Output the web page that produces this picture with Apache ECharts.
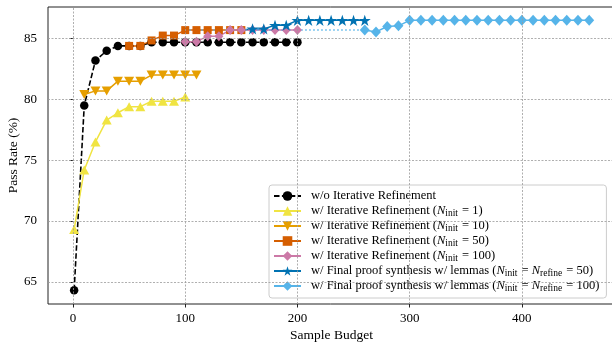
<!DOCTYPE html>
<html>
<head>
<meta charset="utf-8">
<script src="https://cdn.jsdelivr.net/npm/echarts@6/dist/echarts.min.js"></script>
<style>
  html,body{margin:0;padding:0;background:#fff;}
  #chart_wrap{width:612px;height:342px;}
</style>
</head>
<body>
<div id="chart_wrap"></div>
<script>
// sample budgets (x) and pass rates (%)
var budgetBase=[1,10,20,30,40,50,60,70,80,90,100,110,120,130,140,150,160,170,180,190,200];
var rateBase=[64.3,79.5,83.2,84.0,84.4,84.4,84.4,84.7,84.7,84.7,84.7,84.7,84.7,84.7,84.7,84.7,84.7,84.7,84.7,84.7,84.7];

var budgetInit1=[1,10,20,30,40,50,60,70,80,90,100];
var rateInit1=[69.3,74.2,76.5,78.3,78.9,79.4,79.4,79.85,79.85,79.85,80.2];

var budgetInit10=[10,20,30,40,50,60,70,80,90,100,110];
var rateInit10=[80.4,80.7,80.7,81.5,81.5,81.5,82.0,82.0,82.0,82.0,82.0];

var budgetInit50=[50,60,70,80,90,100,110,120,130,140,150];
var rateInit50=[84.4,84.4,84.85,85.25,85.25,85.7,85.7,85.7,85.7,85.7,85.7];

var budgetInit100=[100,110,120,130,140,150,160,170,180,190,200];
var rateInit100=[84.75,84.75,85.2,85.2,85.7,85.7,85.7,85.7,85.7,85.7,85.7];

var budgetLemma50=[150,160,170,180,190,200,210,220,230,240,250,260];
var rateLemma50=[85.7,85.8,85.8,86.1,86.1,86.5,86.5,86.5,86.5,86.5,86.5,86.5];

var budgetLemma100Pre=[100,260];
var rateLemma100Pre=[85.7,85.7];
var budgetLemma100=[260,270,280,290,300,310,320,330,340,350,360,370,380,390,400,410,420,430,440,450,460];
var rateLemma100=[85.7,85.55,86.0,86.05,86.5,86.5,86.5,86.5,86.5,86.5,86.5,86.5,86.5,86.5,86.5,86.5,86.5,86.5,86.5,86.5,86.5];

var xTicks=[0,100,200,300,400];
var yTicks=[65,70,75,80,85];

var seriesNames=[
  'w/o Iterative Refinement',
  'w/ Iterative Refinement (N_init = 1)',
  'w/ Iterative Refinement (N_init = 10)',
  'w/ Iterative Refinement (N_init = 50)',
  'w/ Iterative Refinement (N_init = 100)',
  'w/ Final proof synthesis w/ lemmas (N_init = N_refine = 50)',
  'w/ Final proof synthesis w/ lemmas (N_init = N_refine = 100)'
];

var serif='"Liberation Serif","DejaVu Serif",serif';
var starPath='path://M50,0 L61.8,35.4 L100,35.4 L69.1,57.3 L80.9,92.7 L50,70.8 L19.1,92.7 L30.9,57.3 L0,35.4 L38.2,35.4 Z';

var pairs=function(xs,ys){
  return xs.map(function(x,i){return [x,ys[i]];});
};

var objEcharts=echarts.init(document.getElementById('chart_wrap'));

var gridLines=[];
xTicks.forEach(function(v){gridLines.push({xAxis:v});});
yTicks.forEach(function(v){gridLines.push({yAxis:v});});

var lemma50Data=pairs(budgetLemma50,rateLemma50);
lemma50Data[0]={value:lemma50Data[0],symbol:'none'};

option={
  animation:false,
  grid:{
    left:48,right:-3,top:7,bottom:38,
    outerBoundsMode:'none',containLabel:false,
    show:true,borderColor:'#222',borderWidth:1
  },
  legend:{
    data:seriesNames,
    orient:'vertical',
    left:269,top:185,
    padding:[4,7,5,4],
    itemWidth:27,itemHeight:12,itemGap:1,
    backgroundColor:'rgba(255,255,255,0.85)',
    borderColor:'#ccc',borderWidth:1,borderRadius:3,
    textStyle:{
      fontFamily:serif,fontSize:12.5,color:'#000',lineHeight:14,padding:[0,0,0,5],
      rich:{
        n:{fontFamily:serif,fontSize:12.5,fontStyle:'italic',lineHeight:14},
        s:{fontFamily:serif,fontSize:9.5,lineHeight:10,padding:[4,1,0,0]}
      }
    },
    formatter:function(name){
      return name.replace(/N_(init|refine)/g,'{n|N}{s|$1}');
    }
  },
  xAxis:{
    type:'value',
    min:-22.3,max:483,
    axisLine:{show:false,onZero:false},
    axisTick:{show:true,length:3.5,customValues:xTicks,lineStyle:{color:'#222'}},
    axisLabel:{customValues:xTicks,margin:8,fontFamily:serif,fontSize:13,color:'#000'},
    splitLine:{show:false},
    name:'Sample Budget',
    nameLocation:'middle',nameGap:24,nameMoveOverlap:false,
    nameTextStyle:{fontFamily:serif,fontSize:13.5,color:'#000'}
  },
  yAxis:{
    type:'value',
    min:63.17,max:87.6,
    axisLine:{show:false},
    axisTick:{show:true,length:3.5,customValues:yTicks,lineStyle:{color:'#222'}},
    axisLabel:{customValues:yTicks,margin:11,fontFamily:serif,fontSize:13,color:'#000'},
    splitLine:{show:false},
    name:'Pass Rate (%)',
    nameLocation:'middle',nameGap:28,nameMoveOverlap:false,
    nameTextStyle:{fontFamily:serif,fontSize:13.5,color:'#000'}
  },
  series:[
    { // grid lines
      type:'line',data:[],z:1,silent:true,
      markLine:{
        silent:true,symbol:'none',label:{show:false},animation:false,
        lineStyle:{color:'#9a9a9a',type:[2,1.5],width:0.8},
        data:gridLines
      }
    },
    {
      name:seriesNames[0],type:'line',data:pairs(budgetBase,rateBase),
      symbol:'circle',symbolSize:8.5,
      itemStyle:{color:'#000'},
      lineStyle:{color:'#000',width:1.6,type:[5.5,2.4]}
    },
    {
      name:seriesNames[1],type:'line',data:pairs(budgetInit1,rateInit1),
      symbol:'triangle',symbolSize:[10,9],
      itemStyle:{color:'#F0E442'},
      lineStyle:{color:'#F0E442',width:1.5}
    },
    {
      name:seriesNames[2],type:'line',data:pairs(budgetInit10,rateInit10),
      symbol:'triangle',symbolRotate:180,symbolSize:[10,9],
      itemStyle:{color:'#E69F00'},
      lineStyle:{color:'#E69F00',width:1.5}
    },
    {
      name:seriesNames[3],type:'line',data:pairs(budgetInit50,rateInit50),
      symbol:'rect',symbolSize:8,
      itemStyle:{color:'#D55E00'},
      lineStyle:{color:'#D55E00',width:1.5}
    },
    {
      name:seriesNames[4],type:'line',data:pairs(budgetInit100,rateInit100),
      symbol:'diamond',symbolSize:[9,10],
      itemStyle:{color:'#CC79A7'},
      lineStyle:{color:'#CC79A7',width:1.5}
    },
    {
      name:seriesNames[5],type:'line',data:lemma50Data,
      symbol:starPath,symbolSize:12,symbolKeepAspect:true,
      itemStyle:{color:'#0072B2'},
      lineStyle:{color:'#0072B2',width:1.5}
    },
    { // dotted lead-in of the N=100 lemma run
      type:'line',data:pairs(budgetLemma100Pre,rateLemma100Pre),
      symbol:'none',silent:true,
      lineStyle:{color:'#56B4E9',width:1.5,type:[1.5,2.5]}
    },
    {
      name:seriesNames[6],type:'line',data:pairs(budgetLemma100,rateLemma100),
      symbol:'diamond',symbolSize:[10,11],
      itemStyle:{color:'#56B4E9'},
      lineStyle:{color:'#56B4E9',width:1.5}
    }
  ]
};

objEcharts.setOption(option);
</script>
</body>
</html>
